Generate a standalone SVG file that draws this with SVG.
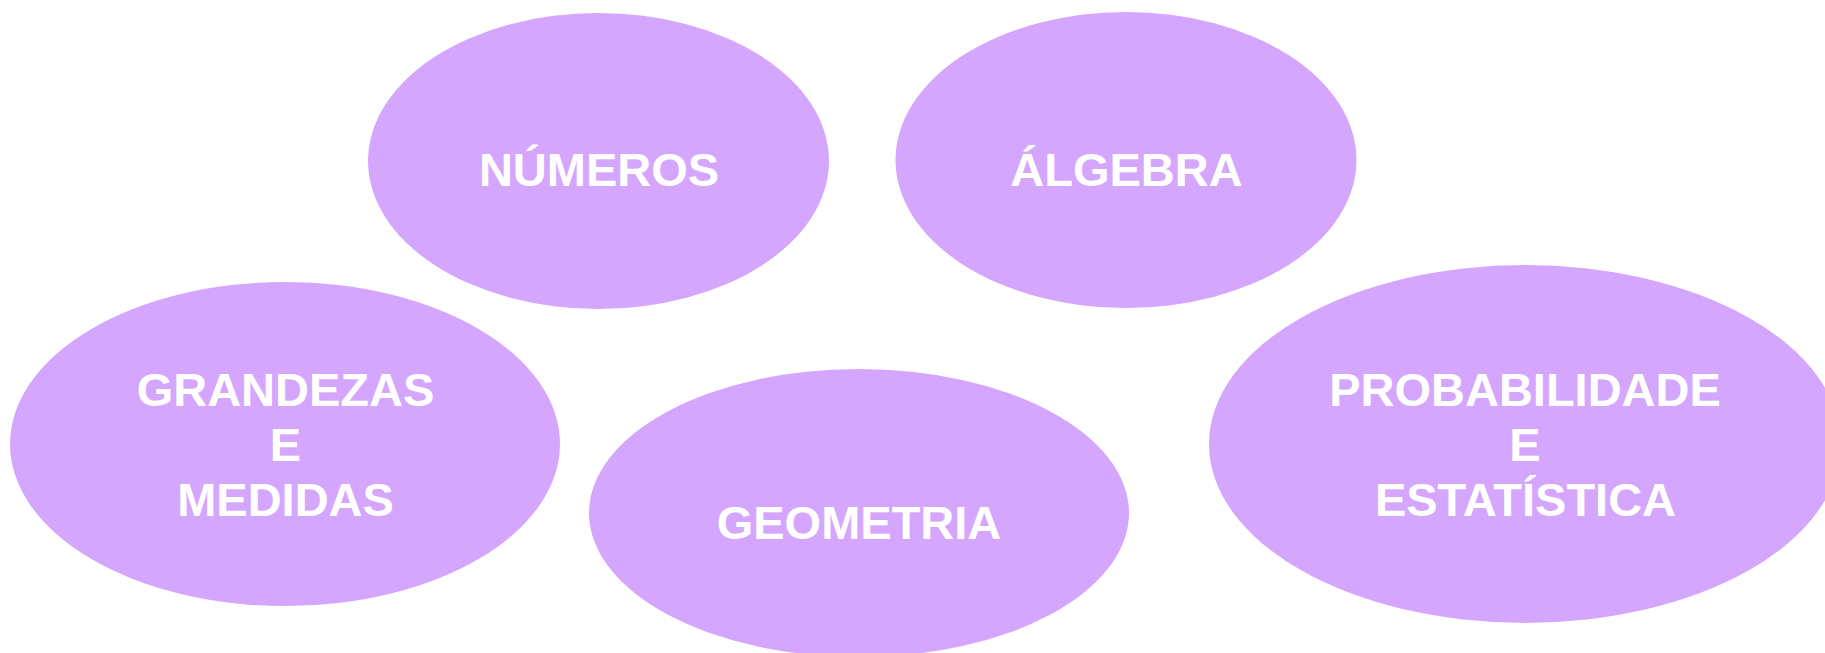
<svg xmlns="http://www.w3.org/2000/svg" width="1825" height="653" viewBox="0 0 1825 653">
<style>
.n{fill:#D4A6FE;stroke:none}
.t{fill:#FFFFFF;font-family:"Liberation Sans",Arial,sans-serif;font-weight:bold;font-size:47px;text-anchor:middle}
</style>
<rect width="1825" height="653" fill="#FFFFFF"/>
<g id="numeros">
<ellipse class="n" cx="598.5" cy="161" rx="230.5" ry="148"/>
<text class="t" x="599" y="186">NÚMEROS</text>
</g>
<g id="algebra">
<ellipse class="n" cx="1126" cy="160" rx="230.5" ry="148"/>
<text class="t" x="1126.5" y="186">ÁLGEBRA</text>
</g>
<g id="grandezas">
<ellipse class="n" cx="285" cy="444" rx="275" ry="162"/>
<text class="t" x="285.5" y="406">GRANDEZAS</text>
<text class="t" x="285.5" y="461">E</text>
<text class="t" x="285.5" y="516">MEDIDAS</text>
</g>
<g id="geometria">
<ellipse class="n" cx="859" cy="513" rx="270" ry="144"/>
<text class="t" x="859" y="539">GEOMETRIA</text>
</g>
<g id="probabilidade">
<ellipse class="n" cx="1525" cy="444" rx="316" ry="179"/>
<text class="t" x="1525" y="406">PROBABILIDADE</text>
<text class="t" x="1525" y="461">E</text>
<text class="t" x="1525.5" y="516">ESTATÍSTICA</text>
</g>
<g id="connectors"/>
</svg>
